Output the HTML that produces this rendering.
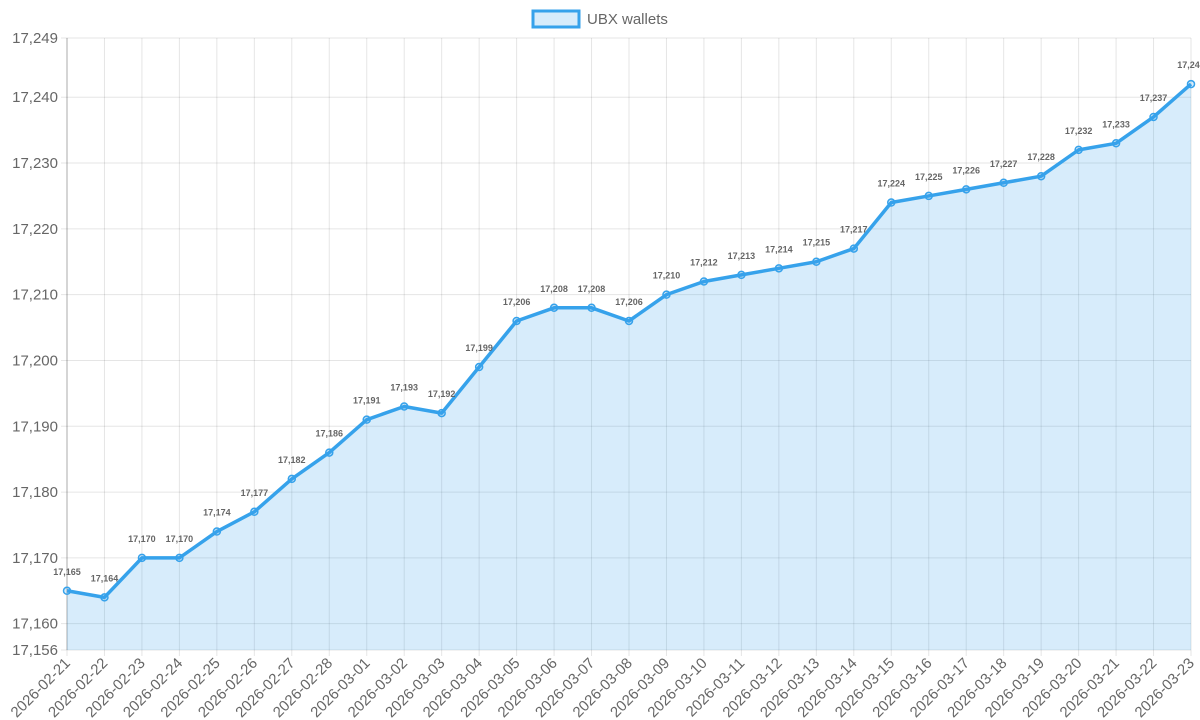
<!DOCTYPE html>
<html><head><meta charset="utf-8"><style>
html,body{margin:0;padding:0;background:#fff;}
svg{display:block;font-family:"Liberation Sans",sans-serif;}
</style></head><body>
<svg id="chart" width="1200" height="720">
<g id="legend">
<rect x="533" y="11" width="46" height="16" fill="rgba(54,162,235,0.2)" stroke="#36a2eb" stroke-width="3"/>
<text x="587" y="24" font-size="15" fill="#666">UBX wallets</text>
</g>
<g id="grid"></g><g id="series"></g><g id="labels"></g>
</svg>
<script>
const categories=["2026-02-21","2026-02-22","2026-02-23","2026-02-24","2026-02-25","2026-02-26","2026-02-27","2026-02-28","2026-03-01","2026-03-02","2026-03-03","2026-03-04","2026-03-05","2026-03-06","2026-03-07","2026-03-08","2026-03-09","2026-03-10","2026-03-11","2026-03-12","2026-03-13","2026-03-14","2026-03-15","2026-03-16","2026-03-17","2026-03-18","2026-03-19","2026-03-20","2026-03-21","2026-03-22","2026-03-23"];
const values=[17165,17164,17170,17170,17174,17177,17182,17186,17191,17193,17192,17199,17206,17208,17208,17206,17210,17212,17213,17214,17215,17217,17224,17225,17226,17227,17228,17232,17233,17237,17242];
const yTicks=[17156,17160,17170,17180,17190,17200,17210,17220,17230,17240,17249];
const yMin=17156,yMax=17249;
const L=67,R=1191,T=38,B=650;
const NS="http://www.w3.org/2000/svg";
const fmt=v=>v.toLocaleString("en-US");
const x=i=>L+(R-L)*i/(categories.length-1);
const y=v=>B-(B-T)*(v-yMin)/(yMax-yMin);
function mk(tag,attrs,parent,txt){const e=document.createElementNS(NS,tag);for(const k in attrs)e.setAttribute(k,attrs[k]);if(txt!==undefined)e.textContent=txt;parent.appendChild(e);return e;}
const grid=document.getElementById("grid"),series=document.getElementById("series"),labels=document.getElementById("labels");
yTicks.forEach(t=>{const yy=y(t);
const g=mk("line",{x1:L-6,x2:R,y1:yy,y2:yy,stroke:"rgba(0,0,0,0.1)","stroke-width":1},grid);


const tx=mk("text",{x:L-9,y:yy+5,"text-anchor":"end","font-size":15,fill:"#666"},grid,fmt(t));


});
categories.forEach((c,i)=>{const xx=x(i);
const g=mk("line",{x1:xx,x2:xx,y1:T,y2:B+6,stroke:"rgba(0,0,0,0.1)","stroke-width":1},grid);


const tx=mk("text",{x:xx+4,y:B+14,"text-anchor":"end","font-size":15,fill:"#666",transform:`rotate(-45 ${xx+4} ${B+14})`},grid,c);


});
const ax=mk("line",{x1:L,x2:L,y1:T,y2:B,stroke:"rgba(0,0,0,0.25)","stroke-width":1},grid);


let d=values.map((v,i)=>(i?"L":"M")+x(i)+" "+y(v)).join(" ");
const area=mk("path",{d:d+` L${x(values.length-1)} ${B} L${x(0)} ${B} Z`,fill:"rgba(54,162,235,0.2)"},series);


const line=mk("path",{d:d,fill:"none",stroke:"#36a2eb","stroke-width":3.5,"stroke-linejoin":"round"},series);


values.forEach((v,i)=>{
const p=mk("circle",{cx:x(i),cy:y(v),r:3.5,fill:"rgba(54,162,235,0.2)",stroke:"#36a2eb","stroke-width":1.5},series);


const t=mk("text",{x:x(i),y:y(v)-16,"text-anchor":"middle","font-size":9,"font-weight":"bold",fill:"#666"},labels,fmt(v));


});
</script>
</body></html>
